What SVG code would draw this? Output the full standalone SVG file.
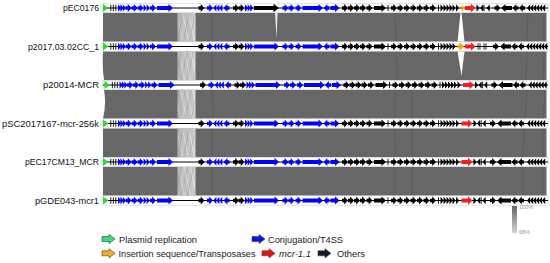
<svg xmlns="http://www.w3.org/2000/svg" xmlns:xlink="http://www.w3.org/1999/xlink" width="550" height="263" viewBox="0 0 550 263">
<style>
.lbl{font-family:"Liberation Sans",Arial,sans-serif;font-size:9px;fill:#111;text-anchor:end}
.leg{font-family:"Liberation Sans",Arial,sans-serif;font-size:9.3px;fill:#1a1a1a}
.band{fill:#fff;stroke:#c8c8c8;stroke-width:0.5}
.axis{stroke:#000;stroke-width:1.2}
.b{fill:#0000ff}.g{fill:#22e022}.r{fill:#ff1a1a}.o{fill:#ffa500}
.link{fill:#676767}
.hatch{fill:url(#hatch)}
.fl{stroke:#585858;stroke-width:0.7;fill:none}
.la{stroke:#3a3a3a;stroke-width:0.6}
.sc{font-family:"Liberation Sans",Arial,sans-serif;font-size:5.5px;fill:#999}
</style>
<defs>
<pattern id="hatch" width="6" height="29" patternUnits="userSpaceOnUse">
<rect width="6" height="29" fill="#bdbdbd"/>
<path d="M0,0L6,29M-6,0L0,29M6,0L12,29" stroke="#e6e6e6" stroke-width="0.7"/>
<path d="M6,0L0,29M0,0L-6,29M12,0L6,29" stroke="#8e8e8e" stroke-width="0.5"/>
<path d="M3,0L3,29" stroke="#d8d8d8" stroke-width="0.4"/>
</pattern>
<linearGradient id="hg" x1="0" y1="0" x2="1" y2="0">
<stop offset="0" stop-color="#888" stop-opacity="0.35"/><stop offset="0.6" stop-color="#fff" stop-opacity="0"/><stop offset="1" stop-color="#fff" stop-opacity="0.3"/>
</linearGradient>
<linearGradient id="sg" x1="0" y1="0" x2="0" y2="1">
<stop offset="0" stop-color="#666"/><stop offset="1" stop-color="#d2d2d2"/>
</linearGradient>
<path id="r" d="M0,-1.8H2.2V-4L6,0L2.2,4V1.8H0Z"/>
<path id="l" d="M6,-1.8H3.8V-4L0,0L3.8,4V1.8H6Z"/>
<path id="t" d="M0,-3.8L3.2,0L0,3.8Z"/>
<path id="u" d="M3.2,-3.8L0,0L3.2,3.8Z"/>
<rect id="k" x="-0.45" y="-3.2" width="0.9" height="6.4"/>
<path id="la" d="M0,-2.5H7V-4.6L13,0L7,4.6V2.5H0Z"/>
<g id="segL">
<path class="g" d="M103,-4L108.5,0L103,4Z"/>
<use href="#k" x="110.8"/><use href="#k" x="113.3"/><use href="#k" x="115.8"/>
<use href="#t" x="118" class="b"/><use href="#t" x="120.4" class="b"/><use href="#t" x="122.8" class="b"/>
<use href="#r" x="125.6" class="b"/><use href="#r" x="131.6" class="b"/><use href="#r" x="137.6" class="b"/>
<use href="#t" x="143.6" class="b"/><use href="#t" x="146.6" class="b"/><use href="#r" x="150" class="b"/>
<path class="b" d="M157,-2H168.5V-4L173,0L168.5,4V2H157Z"/>
<use href="#r" x="198.5"/>
</g>
<g id="segM">
<use href="#r" x="207" class="b"/>
<use href="#u" x="213.2" class="b"/><use href="#u" x="216.2" class="b"/><use href="#u" x="219.2" class="b"/>
<use href="#l" x="223.5" class="b"/>
<use href="#r" x="233"/><use href="#r" x="238.5"/>
<use href="#t" x="245" class="b"/><use href="#t" x="247.6" class="b"/><use href="#t" x="250.2" class="b"/>
<use href="#r" x="282.5" class="b"/><use href="#r" x="288.5" class="b"/><use href="#r" x="295.5" class="b"/>
<path class="b" d="M302.5,-2H318.5V-4L323,0L318.5,4V2H302.5Z"/>
<use href="#l" x="323.5" class="b"/>
<path class="b" d="M330.5,-2H335V-4L339.5,0L335,4V2H330.5Z"/>
</g>
<g id="segR">
<use href="#r" x="342"/><use href="#r" x="348"/><use href="#r" x="354"/><use href="#r" x="360"/><use href="#r" x="366.5"/>
<path d="M374,-2H381.5V-4L386,0L381.5,4V2H374Z"/>
<use href="#k" x="388"/>
<use href="#r" x="391"/><use href="#r" x="397.5"/><use href="#r" x="404"/><use href="#r" x="410.5"/><use href="#r" x="417"/><use href="#r" x="423.5"/><use href="#r" x="430"/>
<use href="#k" x="438.5"/>
<use href="#t" x="440.5"/><use href="#t" x="443.5"/><use href="#t" x="446.5"/><use href="#t" x="449.5"/><use href="#t" x="452.5"/>
</g>
<g id="tailStd">
<use href="#t" x="456"/>
<path class="r" d="M461.5,-2H468V-4.2L472.5,0L468,4.2V2H461.5Z"/>
<use href="#t" x="473.5"/><use href="#u" x="477"/><use href="#k" x="481.2"/><use href="#u" x="482.5"/>
<use href="#r" x="490"/>
<path d="M511,-2H501.5V-4L497,0L501.5,4V2H511Z"/>
<use href="#l" x="511.5"/><use href="#l" x="518"/>
<use href="#u" x="527"/><use href="#u" x="530"/><use href="#u" x="533"/><use href="#u" x="536"/><use href="#u" x="539"/><use href="#u" x="542"/>
</g>
<g id="stdGenes">
<use href="#segL"/><use href="#segM"/><use href="#segR"/>
<path class="b" d="M254,-2H274.5V-4L279,0L274.5,4V2H254Z"/>
<use href="#tailStd"/>
</g>
</defs>

<rect width="550" height="263" fill="#fff"/>

<g id="connectors">
<rect class="link" x="103" y="12.7" width="443.5" height="29.1"/>
<path class="link" d="M103,51.2H546.5V80.3H104Q102,66 103,51.2Z"/>
<path class="link" d="M104,89.7H546.5V118.8H103Q106.5,104 104,89.7Z"/>
<rect class="link" x="103" y="128.2" width="443.5" height="29.1"/>
<rect class="link" x="103" y="166.7" width="443.5" height="29.1"/>
<g id="inversion">
<rect class="hatch" x="177.5" y="12.7" width="18" height="29.1"/>
<rect class="hatch" x="177.5" y="51.2" width="18" height="29.1"/>
<rect class="hatch" x="177.5" y="89.7" width="18" height="29.1"/>
<rect class="hatch" x="177.5" y="128.2" width="18" height="29.1"/>
<rect class="hatch" x="177.5" y="166.7" width="18" height="29.1"/>
<rect fill="url(#hg)" x="177.5" y="12.7" width="18" height="29.1"/>
<rect fill="url(#hg)" x="177.5" y="51.2" width="18" height="29.1"/>
<rect fill="url(#hg)" x="177.5" y="89.7" width="18" height="29.1"/>
<rect fill="url(#hg)" x="177.5" y="128.2" width="18" height="29.1"/>
<rect fill="url(#hg)" x="177.5" y="166.7" width="18" height="29.1"/>
</g>
<path class="fl" d="M211.5,12.7L212,41.8M212,51.2L212.5,80.3M212.5,89.7L213,118.8M212,128.2L212,157.3M212,166.7L212,195.8"/>
<path class="fl" d="M395,12.7L396,41.8M396,51.2L397.5,80.3M395,89.7L395,118.8M395,128.2L395.5,157.3M395,166.7L395,195.8"/>
<path class="fl" d="M412,89.7L412,118.8M412,128.2L412,157.3M412,166.7L412,195.8"/>
<path class="fl" d="M528,12.7L527,41.8M527,51.2L526,80.3M527,89.7L525,118.8M524,128.2L523,157.3M523,166.7L523,195.8"/>
<path class="fl" d="M544,12.7L544,41.8M544,51.2L543,80.3M545,89.7L543,118.8M543,128.2L543,157.3M543,166.7L543,195.8"/>
<path d="M275,12.7L277.6,12.7L276.6,39Z" fill="#fff" opacity="0.85"/>
<path d="M460.5,12.7L461.5,12.7L464.5,41.8L457.5,41.8Z" fill="#fff"/>
<path d="M457.5,51.2L464.5,51.2L461.5,76Z" fill="#fff"/>
</g>

<g id="pEC0176" transform="translate(0,8)">
<text class="lbl" x="99" y="3" textLength="36" lengthAdjust="spacingAndGlyphs">pEC0176</text>
<rect class="band" x="103" y="-4.7" width="445" height="9.4"/>
<line class="axis" x1="103" x2="548" y1="0" y2="0"/>
<use href="#segL"/><use href="#segM"/><use href="#segR"/>
<path d="M254,-2H273.5V-4.2L279,0L273.5,4.2V2H254Z"/>
<use href="#t" x="456"/>
<use href="#t" x="461.5" class="o"/>
<path class="r" d="M465,-2H471V-4.2L475.5,0L471,4.2V2H465Z"/>
<use href="#t" x="476.5"/><use href="#u" x="480"/><use href="#k" x="484"/><use href="#u" x="486.5"/>
<use href="#r" x="494.5"/>
<path d="M512,-2H505.5V-4L501,0L505.5,4V2H512Z"/>
<use href="#l" x="512.5"/><use href="#l" x="519"/>
<use href="#u" x="527"/><use href="#u" x="530"/><use href="#u" x="533"/><use href="#u" x="536"/><use href="#u" x="539"/><use href="#u" x="542"/>
</g>

<g id="p2017.03.02CC_1" transform="translate(0,46.5)">
<text class="lbl" x="99" y="3" textLength="71" lengthAdjust="spacingAndGlyphs">p2017.03.02CC_1</text>
<rect class="band" x="103" y="-4.7" width="445" height="9.4"/>
<line class="axis" x1="103" x2="548" y1="0" y2="0"/>
<use href="#segL"/><use href="#segM"/><use href="#segR"/>
<path class="b" d="M254,-2H274.5V-4L279,0L274.5,4V2H254Z"/>
<path class="o" d="M457.5,-1.8H459.5V-4.2L464,0L459.5,4.2V1.8H457.5Z"/>
<path class="r" d="M465,-2H471V-4.2L475.5,0L471,4.2V2H465Z"/>
<use href="#k" x="478"/><use href="#k" x="480"/><use href="#k" x="484"/><use href="#k" x="486"/>
<use href="#r" x="493"/>
<path d="M511,-2H504.5V-4L500,0L504.5,4V2H511Z"/>
<use href="#l" x="511.5"/><use href="#l" x="518"/>
<use href="#u" x="526"/><use href="#u" x="529"/><use href="#u" x="532"/><use href="#u" x="535"/><use href="#u" x="538"/><use href="#u" x="541"/><use href="#u" x="544"/>
</g>

<g id="p20014-MCR" transform="translate(0,85)">
<text class="lbl" x="99" y="3" textLength="56" lengthAdjust="spacingAndGlyphs">p20014-MCR</text>
<rect class="band" x="103" y="-4.7" width="445" height="9.4"/>
<line class="axis" x1="103" x2="548" y1="0" y2="0"/>
<use href="#stdGenes" x="1.5"/>
</g>

<g id="pSC2017167-mcr-256k" transform="translate(0,123.5)">
<text class="lbl" x="99" y="3" textLength="97" lengthAdjust="spacingAndGlyphs">pSC2017167-mcr-256k</text>
<rect class="band" x="103" y="-4.7" width="445" height="9.4"/>
<line class="axis" x1="103" x2="548" y1="0" y2="0"/>
<use href="#stdGenes"/>
</g>

<g id="pEC17CM13_MCR" transform="translate(0,162)">
<text class="lbl" x="99" y="3" textLength="74" lengthAdjust="spacingAndGlyphs">pEC17CM13_MCR</text>
<rect class="band" x="103" y="-4.7" width="445" height="9.4"/>
<line class="axis" x1="103" x2="548" y1="0" y2="0"/>
<use href="#stdGenes"/>
</g>

<g id="pGDE043-mcr1" transform="translate(0,200.5)">
<text class="lbl" x="99" y="3" textLength="64" lengthAdjust="spacingAndGlyphs">pGDE043-mcr1</text>
<rect class="band" x="103" y="-4.7" width="445" height="9.4"/>
<line class="axis" x1="103" x2="548" y1="0" y2="0"/>
<use href="#stdGenes"/>
</g>

<g id="scale">
<rect x="512" y="206" width="5" height="27" fill="url(#sg)"/>
<text class="sc" x="519" y="209">100%</text>
<text class="sc" x="519" y="234">68%</text>
</g>

<g id="legend">
<use href="#la" x="102" y="239" fill="#33dd77" class="la"/>
<text class="leg" x="119" y="242.5" textLength="78" lengthAdjust="spacingAndGlyphs">Plasmid replication</text>
<use href="#la" x="252" y="239" fill="#1010ee" class="la"/>
<text class="leg" x="268" y="242.5" textLength="75" lengthAdjust="spacingAndGlyphs">Conjugation/T4SS</text>
<use href="#la" x="102" y="253.3" fill="#f2b01e" class="la"/>
<text class="leg" x="118.5" y="256.8" textLength="137" lengthAdjust="spacingAndGlyphs">Insertion sequence/Transposases</text>
<use href="#la" x="262" y="253.3" fill="#ee1111" class="la"/>
<text class="leg" x="279" y="256.8" font-style="italic" textLength="32" lengthAdjust="spacingAndGlyphs">mcr-1.1</text>
<use href="#la" x="318" y="253.3" fill="#131c28" class="la"/>
<text class="leg" x="337" y="256.8" textLength="28" lengthAdjust="spacingAndGlyphs">Others</text>
</g>
</svg>
